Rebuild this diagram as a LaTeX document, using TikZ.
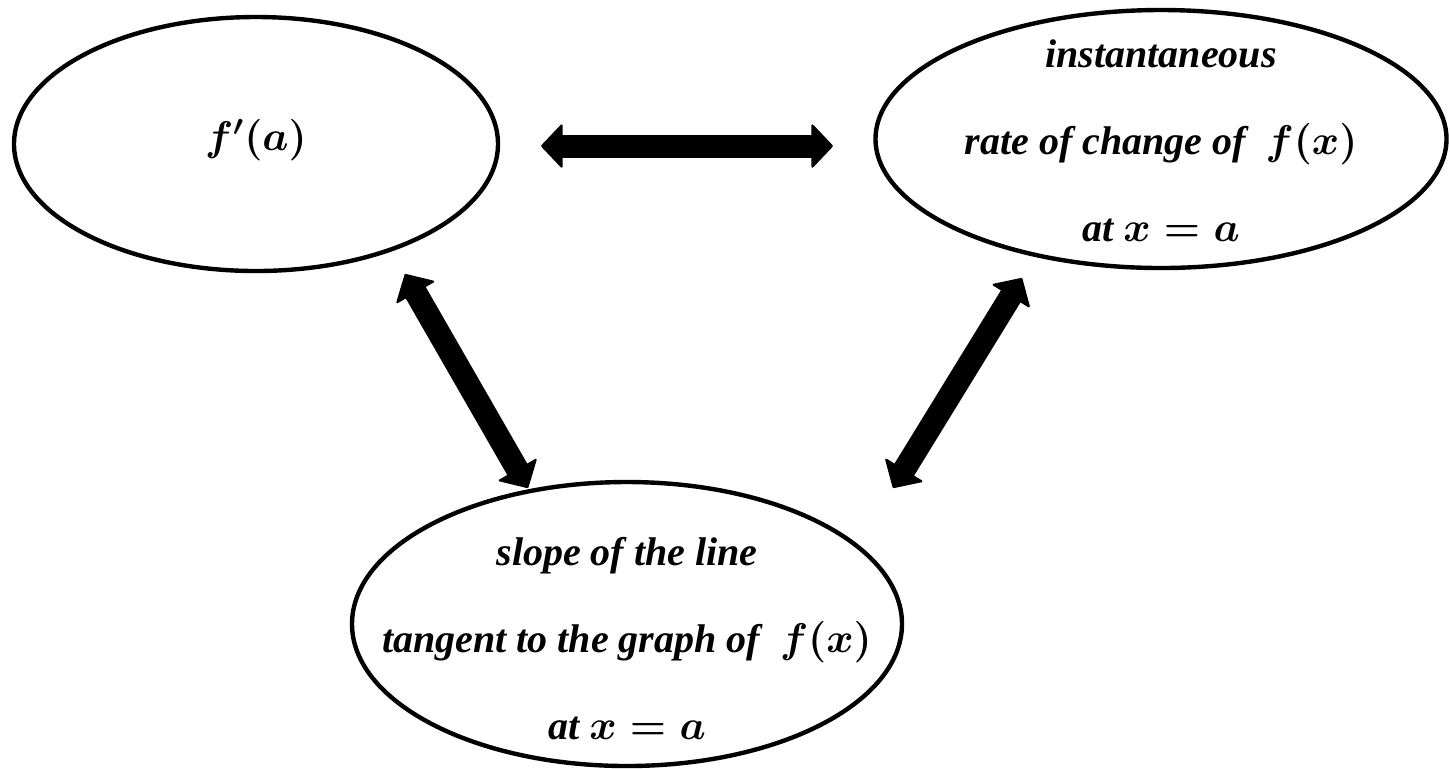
\documentclass[tikz,border=0pt]{standalone}
\usepackage{fontspec}
\setmainfont{Liberation Serif}
\usetikzlibrary{shapes.geometric,arrows.meta}
\newcommand{\mymath}[1]{{\fontsize{22}{43.5}\selectfont$#1$}}
\begin{document}
\begin{tikzpicture}[x=0.5pt,y=-0.5pt,
  bubble/.style={ellipse,draw,line width=2.2pt,inner sep=0pt},
  txt/.style={align=center,inner sep=0pt,font=\fontsize{20}{43.5}\selectfont\bfseries\itshape\boldmath},
  link/.style={line width=11.5pt,{Triangle[length=11pt,width=23pt,line width=1pt,round]}-{Triangle[length=11pt,width=23pt,line width=1pt,round]}}]
\useasboundingbox (0,0) rectangle (1450,768);
% ellipses
\node[bubble,minimum width=242pt,minimum height=127pt] (e1) at (256,144) {};
\node[bubble,minimum width=285.5pt,minimum height=129pt] (e2) at (1161,139) {};
\node[bubble,minimum width=275pt,minimum height=142pt] (e3) at (627,624) {};
% texts
\node[txt] (t1) at (256,140) {\mymath{f'(a)}};
\node[txt] (t2) at (1161,141) {instantaneous\\rate of change of\ \ \mymath{f(x)}\\at \mymath{x=a}};
\node[txt] (t3) at (627,639) {slope of the line\\tangent to the graph of\ \ \mymath{f(x)}\\at \mymath{x=a}};
% arrow end points
\coordinate (h1) at (541,146);
\coordinate (h2) at (833,146);
\coordinate (l1) at (405,274);
\coordinate (l2) at (528,488);
\coordinate (r1) at (1022,278);
\coordinate (r2) at (893,488);
\draw[link] (h1) -- (h2);
\draw[link] (l1) -- (l2);
\draw[link] (r1) -- (r2);
\end{tikzpicture}
\end{document}
